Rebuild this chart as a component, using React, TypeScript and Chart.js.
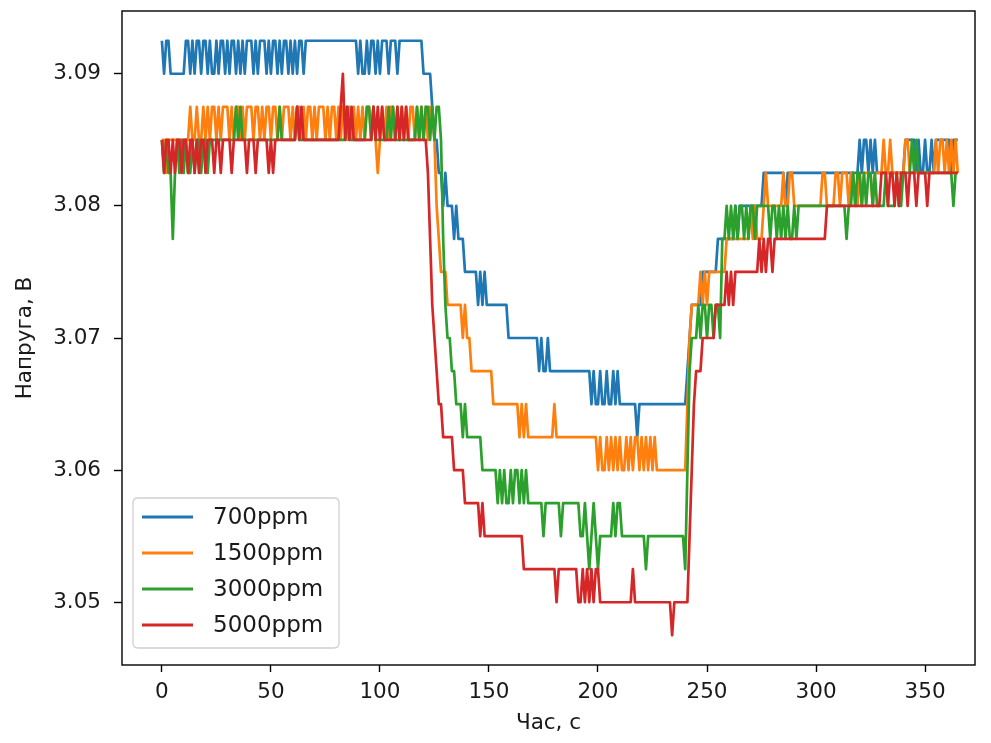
import React, { useEffect, useRef } from "react";
import { Chart, registerables } from "chart.js";

Chart.register(...registerables);

// Sensor output voltage (V), one sample per second, for each CO2 concentration.
const ppm700 = [
  3.0925, 3.09, 3.0925, 3.0925, 3.09, 3.09, 3.09, 3.09, 3.09, 3.09,
  3.09, 3.0925, 3.0925, 3.09, 3.0925, 3.09, 3.0925, 3.0925, 3.09, 3.0925,
  3.0925, 3.09, 3.0925, 3.09, 3.09, 3.0925, 3.09, 3.0925, 3.0925, 3.09,
  3.0925, 3.09, 3.0925, 3.0925, 3.09, 3.0925, 3.09, 3.0925, 3.09, 3.0925,
  3.0925, 3.0925, 3.09, 3.0925, 3.09, 3.0925, 3.0925, 3.0925, 3.09, 3.0925,
  3.09, 3.0925, 3.0925, 3.09, 3.0925, 3.09, 3.0925, 3.0925, 3.09, 3.0925,
  3.09, 3.0925, 3.09, 3.0925, 3.0925, 3.09, 3.0925, 3.0925, 3.0925, 3.0925,
  3.0925, 3.0925, 3.0925, 3.0925, 3.0925, 3.0925, 3.0925, 3.0925, 3.0925, 3.0925,
  3.0925, 3.0925, 3.0925, 3.0925, 3.0925, 3.0925, 3.0925, 3.0925, 3.0925, 3.0925,
  3.09, 3.0925, 3.09, 3.09, 3.0925, 3.09, 3.0925, 3.0925, 3.09, 3.0925,
  3.09, 3.0925, 3.0925, 3.0925, 3.09, 3.0925, 3.0925, 3.0925, 3.09, 3.0925,
  3.0925, 3.0925, 3.0925, 3.0925, 3.0925, 3.0925, 3.0925, 3.0925, 3.0925, 3.0925,
  3.09, 3.09, 3.09, 3.09, 3.0875, 3.085, 3.085, 3.0825, 3.0825, 3.08,
  3.0825, 3.08, 3.08, 3.08, 3.0775, 3.08, 3.0775, 3.0775, 3.0775, 3.075,
  3.075, 3.075, 3.075, 3.075, 3.075, 3.0725, 3.075, 3.0725, 3.075, 3.0725,
  3.0725, 3.0725, 3.0725, 3.0725, 3.0725, 3.0725, 3.0725, 3.0725, 3.0725, 3.07,
  3.07, 3.07, 3.07, 3.07, 3.07, 3.07, 3.07, 3.07, 3.07, 3.07,
  3.07, 3.07, 3.07, 3.0675, 3.07, 3.0675, 3.0675, 3.07, 3.0675, 3.0675,
  3.0675, 3.0675, 3.0675, 3.0675, 3.0675, 3.0675, 3.0675, 3.0675, 3.0675, 3.0675,
  3.0675, 3.0675, 3.0675, 3.0675, 3.0675, 3.0675, 3.0675, 3.065, 3.0675, 3.065,
  3.065, 3.0675, 3.065, 3.065, 3.0675, 3.065, 3.065, 3.0675, 3.065, 3.0675,
  3.065, 3.065, 3.065, 3.065, 3.065, 3.065, 3.065, 3.065, 3.0625, 3.065,
  3.065, 3.065, 3.065, 3.065, 3.065, 3.065, 3.065, 3.065, 3.065, 3.065,
  3.065, 3.065, 3.065, 3.065, 3.065, 3.065, 3.065, 3.065, 3.065, 3.065,
  3.065, 3.0675, 3.07, 3.0725, 3.0725, 3.0725, 3.0725, 3.0725, 3.075, 3.075,
  3.075, 3.075, 3.075, 3.075, 3.075, 3.0775, 3.0775, 3.0775, 3.0775, 3.0775,
  3.0775, 3.0775, 3.0775, 3.08, 3.0775, 3.08, 3.08, 3.08, 3.08, 3.08,
  3.08, 3.08, 3.08, 3.08, 3.08, 3.08, 3.0825, 3.0825, 3.0825, 3.0825,
  3.0825, 3.0825, 3.0825, 3.0825, 3.0825, 3.0825, 3.08, 3.0825, 3.0825, 3.0825,
  3.0825, 3.0825, 3.0825, 3.0825, 3.0825, 3.0825, 3.0825, 3.0825, 3.0825, 3.0825,
  3.0825, 3.0825, 3.0825, 3.0825, 3.0825, 3.0825, 3.0825, 3.0825, 3.0825, 3.0825,
  3.0825, 3.0825, 3.0825, 3.0825, 3.0825, 3.0825, 3.0825, 3.0825, 3.0825, 3.0825,
  3.085, 3.0825, 3.085, 3.085, 3.0825, 3.085, 3.0825, 3.085, 3.0825, 3.0825,
  3.0825, 3.0825, 3.0825, 3.0825, 3.0825, 3.0825, 3.0825, 3.0825, 3.0825, 3.0825,
  3.0825, 3.085, 3.085, 3.085, 3.085, 3.085, 3.0825, 3.085, 3.0825, 3.0825,
  3.085, 3.0825, 3.0825, 3.085, 3.0825, 3.085, 3.085, 3.085, 3.085, 3.085,
  3.085, 3.085, 3.0825, 3.085, 3.085, 3.085,
];

const ppm1500 = [
  3.085, 3.085, 3.0825, 3.085, 3.085, 3.085, 3.085, 3.085, 3.085, 3.085,
  3.085, 3.085, 3.085, 3.0875, 3.085, 3.085, 3.0875, 3.085, 3.085, 3.0875,
  3.085, 3.0875, 3.085, 3.0875, 3.0875, 3.085, 3.0875, 3.085, 3.0875, 3.0875,
  3.0875, 3.085, 3.0875, 3.085, 3.0875, 3.0875, 3.085, 3.0875, 3.085, 3.0875,
  3.0875, 3.0875, 3.085, 3.0875, 3.0875, 3.085, 3.0875, 3.085, 3.0875, 3.0875,
  3.085, 3.0875, 3.0875, 3.085, 3.0875, 3.085, 3.0875, 3.0875, 3.0875, 3.085,
  3.0875, 3.085, 3.0875, 3.0875, 3.085, 3.0875, 3.085, 3.0875, 3.0875, 3.085,
  3.0875, 3.085, 3.0875, 3.0875, 3.0875, 3.085, 3.0875, 3.085, 3.0875, 3.0875,
  3.085, 3.0875, 3.085, 3.0875, 3.0875, 3.085, 3.0875, 3.085, 3.0875, 3.085,
  3.0875, 3.085, 3.0875, 3.085, 3.0875, 3.0875, 3.085, 3.0875, 3.085, 3.0825,
  3.085, 3.0875, 3.085, 3.0875, 3.085, 3.0875, 3.0875, 3.085, 3.0875, 3.085,
  3.0875, 3.085, 3.0875, 3.085, 3.0875, 3.0875, 3.085, 3.0875, 3.085, 3.0875,
  3.085, 3.0875, 3.085, 3.0875, 3.0875, 3.085, 3.08, 3.0775, 3.075, 3.075,
  3.075, 3.0725, 3.0725, 3.0725, 3.0725, 3.0725, 3.0725, 3.0725, 3.07, 3.0725,
  3.07, 3.07, 3.0675, 3.0675, 3.0675, 3.0675, 3.0675, 3.0675, 3.0675, 3.0675,
  3.0675, 3.0675, 3.065, 3.065, 3.065, 3.065, 3.065, 3.065, 3.065, 3.065,
  3.065, 3.065, 3.065, 3.065, 3.0625, 3.065, 3.0625, 3.065, 3.0625, 3.0625,
  3.0625, 3.0625, 3.0625, 3.0625, 3.0625, 3.0625, 3.0625, 3.0625, 3.0625, 3.0625,
  3.065, 3.0625, 3.0625, 3.0625, 3.0625, 3.0625, 3.0625, 3.0625, 3.0625, 3.0625,
  3.0625, 3.0625, 3.0625, 3.0625, 3.0625, 3.0625, 3.0625, 3.0625, 3.0625, 3.0625,
  3.06, 3.0625, 3.06, 3.06, 3.0625, 3.06, 3.0625, 3.06, 3.0625, 3.06,
  3.0625, 3.06, 3.06, 3.0625, 3.06, 3.0625, 3.06, 3.0625, 3.0625, 3.06,
  3.0625, 3.06, 3.0625, 3.06, 3.0625, 3.06, 3.0625, 3.06, 3.06, 3.06,
  3.06, 3.06, 3.06, 3.06, 3.06, 3.06, 3.06, 3.06, 3.06, 3.06,
  3.06, 3.065, 3.07, 3.0725, 3.0725, 3.0725, 3.0725, 3.075, 3.0725, 3.075,
  3.0725, 3.075, 3.075, 3.075, 3.075, 3.075, 3.075, 3.075, 3.075, 3.0775,
  3.0775, 3.0775, 3.0775, 3.0775, 3.0775, 3.0775, 3.0775, 3.0775, 3.0775, 3.0775,
  3.08, 3.0775, 3.08, 3.0775, 3.0775, 3.0775, 3.08, 3.0825, 3.08, 3.08,
  3.08, 3.08, 3.08, 3.08, 3.08, 3.0825, 3.08, 3.08, 3.0825, 3.0825,
  3.08, 3.08, 3.08, 3.08, 3.08, 3.08, 3.08, 3.08, 3.08, 3.08,
  3.08, 3.08, 3.08, 3.0825, 3.0825, 3.08, 3.08, 3.08, 3.08, 3.0825,
  3.0825, 3.08, 3.0825, 3.0825, 3.0825, 3.08, 3.0825, 3.0825, 3.08, 3.08,
  3.0825, 3.08, 3.0825, 3.0825, 3.0825, 3.0825, 3.08, 3.0825, 3.0825, 3.0825,
  3.0825, 3.085, 3.0825, 3.0825, 3.085, 3.0825, 3.0825, 3.0825, 3.0825, 3.0825,
  3.0825, 3.085, 3.085, 3.0825, 3.0825, 3.0825, 3.0825, 3.0825, 3.0825, 3.0825,
  3.0825, 3.0825, 3.0825, 3.0825, 3.0825, 3.085, 3.0825, 3.085, 3.085, 3.0825,
  3.085, 3.0825, 3.085, 3.0825, 3.085, 3.0825,
];

const ppm3000 = [
  3.085, 3.0825, 3.085, 3.0825, 3.0825, 3.0775, 3.0825, 3.085, 3.0825, 3.085,
  3.0825, 3.085, 3.0825, 3.0825, 3.085, 3.0825, 3.085, 3.085, 3.0825, 3.085,
  3.085, 3.0825, 3.085, 3.085, 3.085, 3.085, 3.085, 3.085, 3.085, 3.085,
  3.085, 3.085, 3.085, 3.085, 3.0875, 3.085, 3.0875, 3.085, 3.085, 3.085,
  3.085, 3.085, 3.085, 3.085, 3.085, 3.085, 3.085, 3.085, 3.085, 3.085,
  3.085, 3.085, 3.085, 3.085, 3.0875, 3.085, 3.085, 3.085, 3.085, 3.085,
  3.085, 3.085, 3.0875, 3.085, 3.085, 3.085, 3.085, 3.085, 3.085, 3.085,
  3.085, 3.085, 3.085, 3.085, 3.085, 3.085, 3.085, 3.085, 3.085, 3.085,
  3.085, 3.085, 3.085, 3.085, 3.085, 3.0875, 3.085, 3.085, 3.085, 3.085,
  3.085, 3.085, 3.085, 3.085, 3.0875, 3.0875, 3.085, 3.0875, 3.085, 3.085,
  3.085, 3.085, 3.085, 3.085, 3.0875, 3.085, 3.0875, 3.085, 3.085, 3.085,
  3.085, 3.085, 3.085, 3.085, 3.085, 3.085, 3.085, 3.0875, 3.085, 3.0875,
  3.085, 3.0875, 3.0875, 3.085, 3.0875, 3.085, 3.0875, 3.0875, 3.085, 3.0775,
  3.0725, 3.07, 3.07, 3.0675, 3.0675, 3.065, 3.065, 3.065, 3.0625, 3.065,
  3.0625, 3.0625, 3.0625, 3.0625, 3.0625, 3.0625, 3.0625, 3.06, 3.06, 3.06,
  3.06, 3.06, 3.06, 3.06, 3.0575, 3.06, 3.0575, 3.06, 3.0575, 3.0575,
  3.06, 3.0575, 3.06, 3.06, 3.0575, 3.06, 3.0575, 3.06, 3.0575, 3.0575,
  3.0575, 3.0575, 3.0575, 3.0575, 3.0575, 3.055, 3.0575, 3.0575, 3.0575, 3.0575,
  3.0575, 3.0575, 3.0575, 3.055, 3.0575, 3.0575, 3.0575, 3.0575, 3.0575, 3.0575,
  3.0575, 3.0575, 3.055, 3.055, 3.0575, 3.055, 3.0525, 3.055, 3.0575, 3.055,
  3.0525, 3.055, 3.055, 3.055, 3.055, 3.055, 3.055, 3.0575, 3.055, 3.0575,
  3.0575, 3.055, 3.055, 3.055, 3.055, 3.055, 3.055, 3.055, 3.055, 3.055,
  3.055, 3.055, 3.0525, 3.055, 3.055, 3.055, 3.055, 3.055, 3.055, 3.055,
  3.055, 3.055, 3.055, 3.055, 3.055, 3.055, 3.055, 3.055, 3.055, 3.055,
  3.0525, 3.06, 3.0675, 3.07, 3.07, 3.07, 3.0725, 3.07, 3.0725, 3.0725,
  3.07, 3.0725, 3.0725, 3.07, 3.0725, 3.0725, 3.07, 3.0775, 3.0775, 3.08,
  3.0775, 3.08, 3.0775, 3.08, 3.0775, 3.08, 3.08, 3.0775, 3.08, 3.0775,
  3.08, 3.08, 3.0775, 3.08, 3.08, 3.08, 3.08, 3.08, 3.08, 3.0775,
  3.08, 3.08, 3.0775, 3.08, 3.0775, 3.08, 3.0775, 3.08, 3.0775, 3.0775,
  3.08, 3.0775, 3.08, 3.08, 3.08, 3.08, 3.08, 3.08, 3.08, 3.08,
  3.08, 3.08, 3.08, 3.08, 3.08, 3.08, 3.08, 3.08, 3.08, 3.08,
  3.08, 3.08, 3.08, 3.08, 3.0775, 3.08, 3.08, 3.0825, 3.08, 3.0825,
  3.0825, 3.08, 3.0825, 3.08, 3.0825, 3.0825, 3.08, 3.0825, 3.08, 3.08,
  3.08, 3.08, 3.0825, 3.08, 3.08, 3.08, 3.08, 3.0825, 3.08, 3.08,
  3.0825, 3.0825, 3.0825, 3.0825, 3.085, 3.0825, 3.085, 3.0825, 3.0825, 3.0825,
  3.0825, 3.0825, 3.0825, 3.0825, 3.0825, 3.0825, 3.0825, 3.0825, 3.0825, 3.0825,
  3.0825, 3.0825, 3.0825, 3.08, 3.0825, 3.0825,
];

const ppm5000 = [
  3.085, 3.0825, 3.085, 3.085, 3.0825, 3.085, 3.0825, 3.085, 3.085, 3.0825,
  3.085, 3.085, 3.0825, 3.085, 3.085, 3.0825, 3.085, 3.0825, 3.085, 3.085,
  3.0825, 3.085, 3.085, 3.085, 3.0825, 3.085, 3.085, 3.0825, 3.085, 3.085,
  3.085, 3.085, 3.0825, 3.085, 3.085, 3.085, 3.085, 3.085, 3.085, 3.0825,
  3.085, 3.085, 3.085, 3.0825, 3.085, 3.085, 3.085, 3.085, 3.085, 3.0825,
  3.085, 3.0825, 3.085, 3.085, 3.085, 3.085, 3.085, 3.085, 3.085, 3.085,
  3.085, 3.085, 3.0875, 3.085, 3.0875, 3.085, 3.085, 3.085, 3.085, 3.085,
  3.085, 3.085, 3.085, 3.085, 3.085, 3.085, 3.085, 3.085, 3.085, 3.085,
  3.085, 3.085, 3.0875, 3.09, 3.085, 3.0875, 3.085, 3.0875, 3.085, 3.085,
  3.085, 3.085, 3.085, 3.085, 3.085, 3.085, 3.085, 3.0875, 3.085, 3.0875,
  3.085, 3.0875, 3.085, 3.085, 3.085, 3.085, 3.085, 3.085, 3.0875, 3.085,
  3.0875, 3.085, 3.0875, 3.085, 3.085, 3.085, 3.085, 3.085, 3.085, 3.085,
  3.085, 3.085, 3.0825, 3.0775, 3.0725, 3.07, 3.0675, 3.065, 3.065, 3.0625,
  3.0625, 3.0625, 3.0625, 3.0625, 3.06, 3.06, 3.06, 3.06, 3.06, 3.0575,
  3.0575, 3.0575, 3.0575, 3.0575, 3.0575, 3.0575, 3.055, 3.0575, 3.055, 3.055,
  3.055, 3.055, 3.055, 3.055, 3.055, 3.055, 3.055, 3.055, 3.055, 3.055,
  3.055, 3.055, 3.055, 3.055, 3.055, 3.055, 3.0525, 3.0525, 3.0525, 3.0525,
  3.0525, 3.0525, 3.0525, 3.0525, 3.0525, 3.0525, 3.0525, 3.0525, 3.0525, 3.0525,
  3.0525, 3.05, 3.0525, 3.0525, 3.0525, 3.0525, 3.0525, 3.0525, 3.0525, 3.0525,
  3.0525, 3.05, 3.05, 3.0525, 3.05, 3.0525, 3.05, 3.0525, 3.05, 3.0525,
  3.0525, 3.05, 3.05, 3.05, 3.05, 3.05, 3.05, 3.05, 3.05, 3.05,
  3.05, 3.05, 3.05, 3.05, 3.05, 3.05, 3.0525, 3.05, 3.05, 3.05,
  3.05, 3.05, 3.05, 3.05, 3.05, 3.05, 3.05, 3.05, 3.05, 3.05,
  3.05, 3.05, 3.05, 3.05, 3.0475, 3.05, 3.05, 3.05, 3.05, 3.05,
  3.05, 3.05, 3.055, 3.06, 3.065, 3.0675, 3.0675, 3.0675, 3.07, 3.07,
  3.07, 3.07, 3.07, 3.07, 3.0725, 3.0725, 3.0725, 3.0725, 3.0725, 3.075,
  3.0725, 3.075, 3.0725, 3.075, 3.075, 3.075, 3.075, 3.075, 3.075, 3.075,
  3.075, 3.075, 3.075, 3.075, 3.0775, 3.075, 3.0775, 3.075, 3.0775, 3.0775,
  3.075, 3.0775, 3.0775, 3.0775, 3.0775, 3.0775, 3.0775, 3.0775, 3.0775, 3.0775,
  3.0775, 3.0775, 3.0775, 3.0775, 3.0775, 3.0775, 3.0775, 3.0775, 3.0775, 3.0775,
  3.0775, 3.0775, 3.0775, 3.0775, 3.0775, 3.08, 3.08, 3.08, 3.08, 3.08,
  3.08, 3.08, 3.08, 3.08, 3.08, 3.08, 3.08, 3.08, 3.08, 3.08,
  3.08, 3.08, 3.08, 3.08, 3.08, 3.08, 3.08, 3.08, 3.08, 3.08,
  3.0825, 3.0825, 3.0825, 3.08, 3.0825, 3.0825, 3.08, 3.0825, 3.08, 3.0825,
  3.0825, 3.0825, 3.08, 3.0825, 3.0825, 3.0825, 3.08, 3.0825, 3.0825, 3.0825,
  3.0825, 3.08, 3.0825, 3.0825, 3.0825, 3.0825, 3.0825, 3.0825, 3.0825, 3.0825,
  3.0825, 3.0825, 3.0825, 3.0825, 3.0825, 3.0825,
];

const seriesLabels = ["700ppm", "1500ppm", "3000ppm", "5000ppm"];
const seriesColors = ["#1f77b4", "#ff7f0e", "#2ca02c", "#d62728"];
const seriesValues = [ppm700, ppm1500, ppm3000, ppm5000];

const xTickValues = [0, 50, 100, 150, 200, 250, 300, 350];
const yTickValues = [3.05, 3.06, 3.07, 3.08, 3.09];

const FONT = "'DejaVu Sans', 'Liberation Sans', sans-serif";
const TEXT_COLOR = "#1a1a1a";

// Closed black frame around the plotting area.
const framePlugin = {
  id: "axesFrame",
  afterDatasetsDraw(chart: any) {
    const { ctx, chartArea: a } = chart;
    ctx.save();
    ctx.strokeStyle = "#000";
    ctx.lineWidth = 1.4;
    ctx.strokeRect(a.left, a.top, a.right - a.left, a.bottom - a.top);
    ctx.restore();
  },
};

// Boxed legend in the lower-left corner of the plotting area.
const boxLegendPlugin = {
  id: "boxLegend",
  afterDraw(chart: any) {
    const { ctx, chartArea: a } = chart;
    const w = 206;
    const h = 150;
    const x0 = a.left + 11;
    const y0 = a.bottom - 17 - h;
    const r = 5;
    ctx.save();
    ctx.beginPath();
    ctx.moveTo(x0 + r, y0);
    ctx.lineTo(x0 + w - r, y0);
    ctx.quadraticCurveTo(x0 + w, y0, x0 + w, y0 + r);
    ctx.lineTo(x0 + w, y0 + h - r);
    ctx.quadraticCurveTo(x0 + w, y0 + h, x0 + w - r, y0 + h);
    ctx.lineTo(x0 + r, y0 + h);
    ctx.quadraticCurveTo(x0, y0 + h, x0, y0 + h - r);
    ctx.lineTo(x0, y0 + r);
    ctx.quadraticCurveTo(x0, y0, x0 + r, y0);
    ctx.closePath();
    ctx.fillStyle = "rgba(255,255,255,0.8)";
    ctx.fill();
    ctx.strokeStyle = "#d0d0d0";
    ctx.lineWidth = 1.3;
    ctx.stroke();

    ctx.font = `23px ${FONT}`;
    ctx.textBaseline = "middle";
    ctx.textAlign = "left";
    seriesLabels.forEach((label, i) => {
      const cy = y0 + 19 + i * 36;
      ctx.beginPath();
      ctx.moveTo(x0 + 9, cy);
      ctx.lineTo(x0 + 60, cy);
      ctx.strokeStyle = seriesColors[i];
      ctx.lineWidth = 2.8;
      ctx.stroke();
      ctx.fillStyle = TEXT_COLOR;
      ctx.fillText(label, x0 + 80, cy + 1);
    });
    ctx.restore();
  },
};

export default function App() {
  const canvasRef = useRef<HTMLCanvasElement | null>(null);

  useEffect(() => {
    const canvas = canvasRef.current;
    if (!canvas) return;

    const datasets = seriesValues.map((values, i) => ({
      label: seriesLabels[i],
      data: values.map((v, t) => ({ x: t, y: v })),
      borderColor: seriesColors[i],
      backgroundColor: seriesColors[i],
      borderWidth: 2.7,
      borderJoinStyle: "round" as const,
      pointRadius: 0,
      tension: 0,
      fill: false,
      // later series are painted over earlier ones
      order: seriesValues.length - i,
    }));

    const chart = new Chart(canvas, {
      type: "line",
      data: { datasets },
      options: {
        responsive: false,
        animation: false,
        devicePixelRatio: 1,
        layout: { padding: { top: 11, right: 16, bottom: 0, left: 0 } },
        plugins: {
          legend: { display: false },
          tooltip: { enabled: false },
        },
        scales: {
          x: {
            type: "linear",
            min: -18.3,
            max: 372.9,
            afterBuildTicks: (scale: any) => {
              scale.ticks = xTickValues.map((value) => ({ value }));
            },
            afterFit: (scale: any) => {
              scale.height = 78;
              scale.paddingLeft = 0;
              scale.paddingRight = 0;
            },
            grid: {
              display: true,
              drawOnChartArea: false,
              drawTicks: true,
              tickLength: 7,
              tickWidth: 1.4,
              tickColor: "#000",
            },
            border: { display: false },
            ticks: {
              font: { family: FONT, size: 21.5 },
              color: TEXT_COLOR,
              padding: 8,
              maxRotation: 0,
              callback: (v: any) => String(v),
            },
            title: {
              display: true,
              text: "Час, с",
              font: { family: FONT, size: 21.5 },
              color: TEXT_COLOR,
              padding: { top: 8, bottom: 7 },
            },
          },
          y: {
            type: "linear",
            min: 3.04525,
            max: 3.09475,
            afterBuildTicks: (scale: any) => {
              scale.ticks = yTickValues.map((value) => ({ value }));
            },
            afterFit: (scale: any) => {
              scale.width = 122;
              scale.paddingTop = 0;
              scale.paddingBottom = 0;
            },
            grid: {
              display: true,
              drawOnChartArea: false,
              drawTicks: true,
              tickLength: 8,
              tickWidth: 1.4,
              tickColor: "#000",
            },
            border: { display: false },
            ticks: {
              font: { family: FONT, size: 21.5 },
              color: TEXT_COLOR,
              padding: 13,
              callback: (v: any) => Number(v).toFixed(2),
            },
            title: {
              display: true,
              text: "Напруга, В",
              font: { family: FONT, size: 21.5 },
              color: TEXT_COLOR,
              padding: { top: 13, bottom: 0 },
            },
          },
        },
      },
      plugins: [framePlugin, boxLegendPlugin],
    });

    return () => {
      chart.destroy();
    };
  }, []);

  return (
    <div style={{ position: "absolute", left: 0, top: 0, width: 991, height: 743, background: "#fff" }}>
      <canvas ref={canvasRef} width={991} height={743} style={{ width: 991, height: 743 }} />
    </div>
  );
}
